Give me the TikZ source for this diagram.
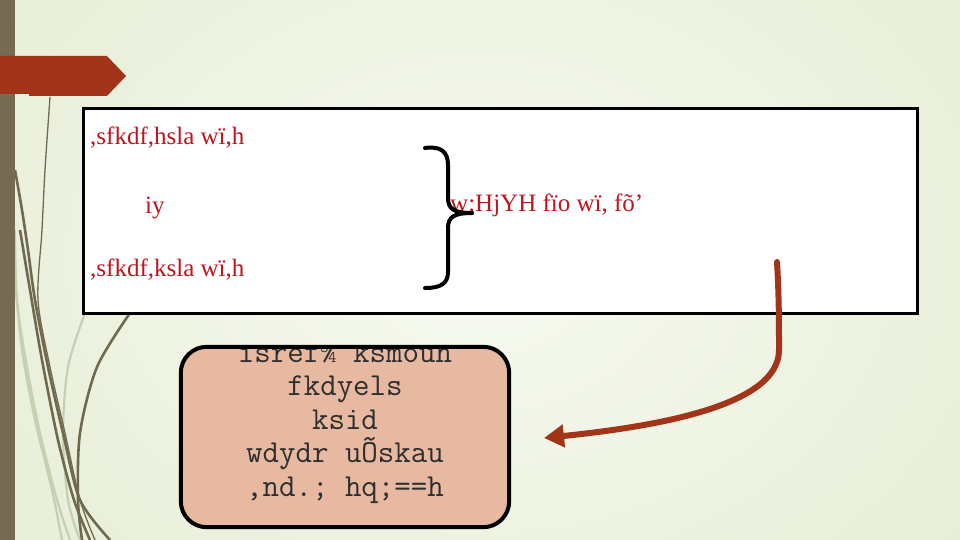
\documentclass[tikz,border=0pt]{standalone}
\usepackage{fontspec}
\setmainfont{Liberation Serif}
\usetikzlibrary{arrows.meta}
\definecolor{bgA}{HTML}{D9E3C0}
\definecolor{bgB}{HTML}{F8FAF2}
\definecolor{barc}{HTML}{746B52}
\definecolor{tabc}{HTML}{A2341A}
\definecolor{olive}{HTML}{6F6A4F}
\definecolor{lightol}{HTML}{C6CFB2}
\definecolor{txtred}{HTML}{C0141E}
\definecolor{salmon}{HTML}{E8B9A1}
\definecolor{monog}{HTML}{2E2E2E}
\tikzset{
  redtxt/.style={text=txtred, font=\fontsize{25}{29}\selectfont, inner sep=0pt},
  monotxt/.style={text=monog, font=\ttfamily\fontsize{32}{34}\selectfont, inner sep=0pt},
  deco/.style={draw=olive, line width=2.6pt},
  decolight/.style={draw=lightol, line width=2.2pt},
  bracestyle/.style={draw=black, line width=4pt, line cap=round},
  flow/.style={draw=tabc, line width=6pt, line cap=round, -{Triangle[length=20pt,width=22pt]}}
}
\begin{document}
\begin{tikzpicture}[x=1pt,y=-1pt]
\useasboundingbox (0,0) rectangle (960,540);
% background
\begin{scope}
\clip (0,0) rectangle (960,540);
\shade[inner color=bgB, outer color=bgA] (-640,-580) rectangle (1600,1100);
\end{scope}
% decorative lines
\draw[decolight] plot[smooth] coordinates {(85,313) (68,367) (63,433) (68,500) (80,540)};
\draw[decolight] plot[smooth] coordinates {(15,230) (17,300) (27,367) (40,433) (57,500) (70,540)};
\draw[decolight] plot[smooth] coordinates {(15,280) (22,350) (35,420) (52,490) (62,540)};
\draw[deco, line width=1.3pt] plot[smooth] coordinates {(50,97) (45,170) (42,230) (38,300) (50,367) (65,433) (80,500) (95,540)};
\draw[deco] plot[smooth] coordinates {(15,170) (22,210) (28,250) (35,300) (48,367) (63,433) (80,500) (110,540)};
\draw[deco] plot[smooth] coordinates {(20,230) (30,290) (42,360) (58,440) (74,500) (90,540)};
\draw[deco] plot[smooth] coordinates {(130,313) (97,367) (80,433) (78,500) (82,540)};
% left bar
\fill[barc] (0,0) rectangle (15,540);
% red tab
\fill[tabc] (0,56) -- (107,56) -- (126,76) -- (107,96) -- (29,96) -- (29,94) -- (0,94) -- cycle;
% white panel
\node[draw=black, fill=white, line width=3pt, minimum width=834pt, minimum height=204pt, inner sep=0pt] (panel) at (500,211) {};
% panel texts
\node[redtxt, anchor=base west] (l1) at (90,145) {,sfkdf,hsla wï,h};
\node[redtxt, anchor=base west] (l2) at (145,213) {iy};
\node[redtxt, anchor=base west] (l3) at (90,276) {,sfkdf,ksla wï,h};
\node[redtxt, anchor=base west] (r1) at (450,211) {w;HjYH fïo wï, fõ'};
% brace
\draw[bracestyle] (425,148) .. controls (440,146) and (448,151) .. (448,165) -- (448,198)
  .. controls (448,209) and (454,213) .. (472,213);
\draw[bracestyle] (472,213) .. controls (454,213) and (448,217) .. (448,228) -- (448,272)
  .. controls (448,284) and (440,288) .. (425,288);
% rounded box
\node[fill=salmon, rounded corners=26pt, minimum width=328pt, minimum height=180pt, inner sep=0pt] (rbox) at (345,437) {};
\begin{scope}
\clip[rounded corners=26pt] (181,347) rectangle (509,527);
\node[monotxt, anchor=base] (t1) at (345,362) {isref¾ ksmoúh};
\node[monotxt, anchor=base] (t2) at (345,395.5) {fkdyels};
\node[monotxt, anchor=base] (t3) at (345,429) {ksid};
\node[monotxt, anchor=base] (t4) at (345,462.5) {wdydr uÕskau};
\node[monotxt, anchor=base] (t5) at (345,496) {,nd.; hq;==h};
\end{scope}
\draw[black, line width=4pt, rounded corners=26pt] (rbox.south west) rectangle (rbox.north east);
% arrow
\coordinate (astart) at (777,262);
\coordinate (abend) at (779,350);
\coordinate (aend) at (544,438);
\draw[flow] (astart) .. controls (779,295) and (779,325) .. (abend)
  .. controls (779,405) and (660,426) .. (aend);
\end{tikzpicture}
\end{document}
